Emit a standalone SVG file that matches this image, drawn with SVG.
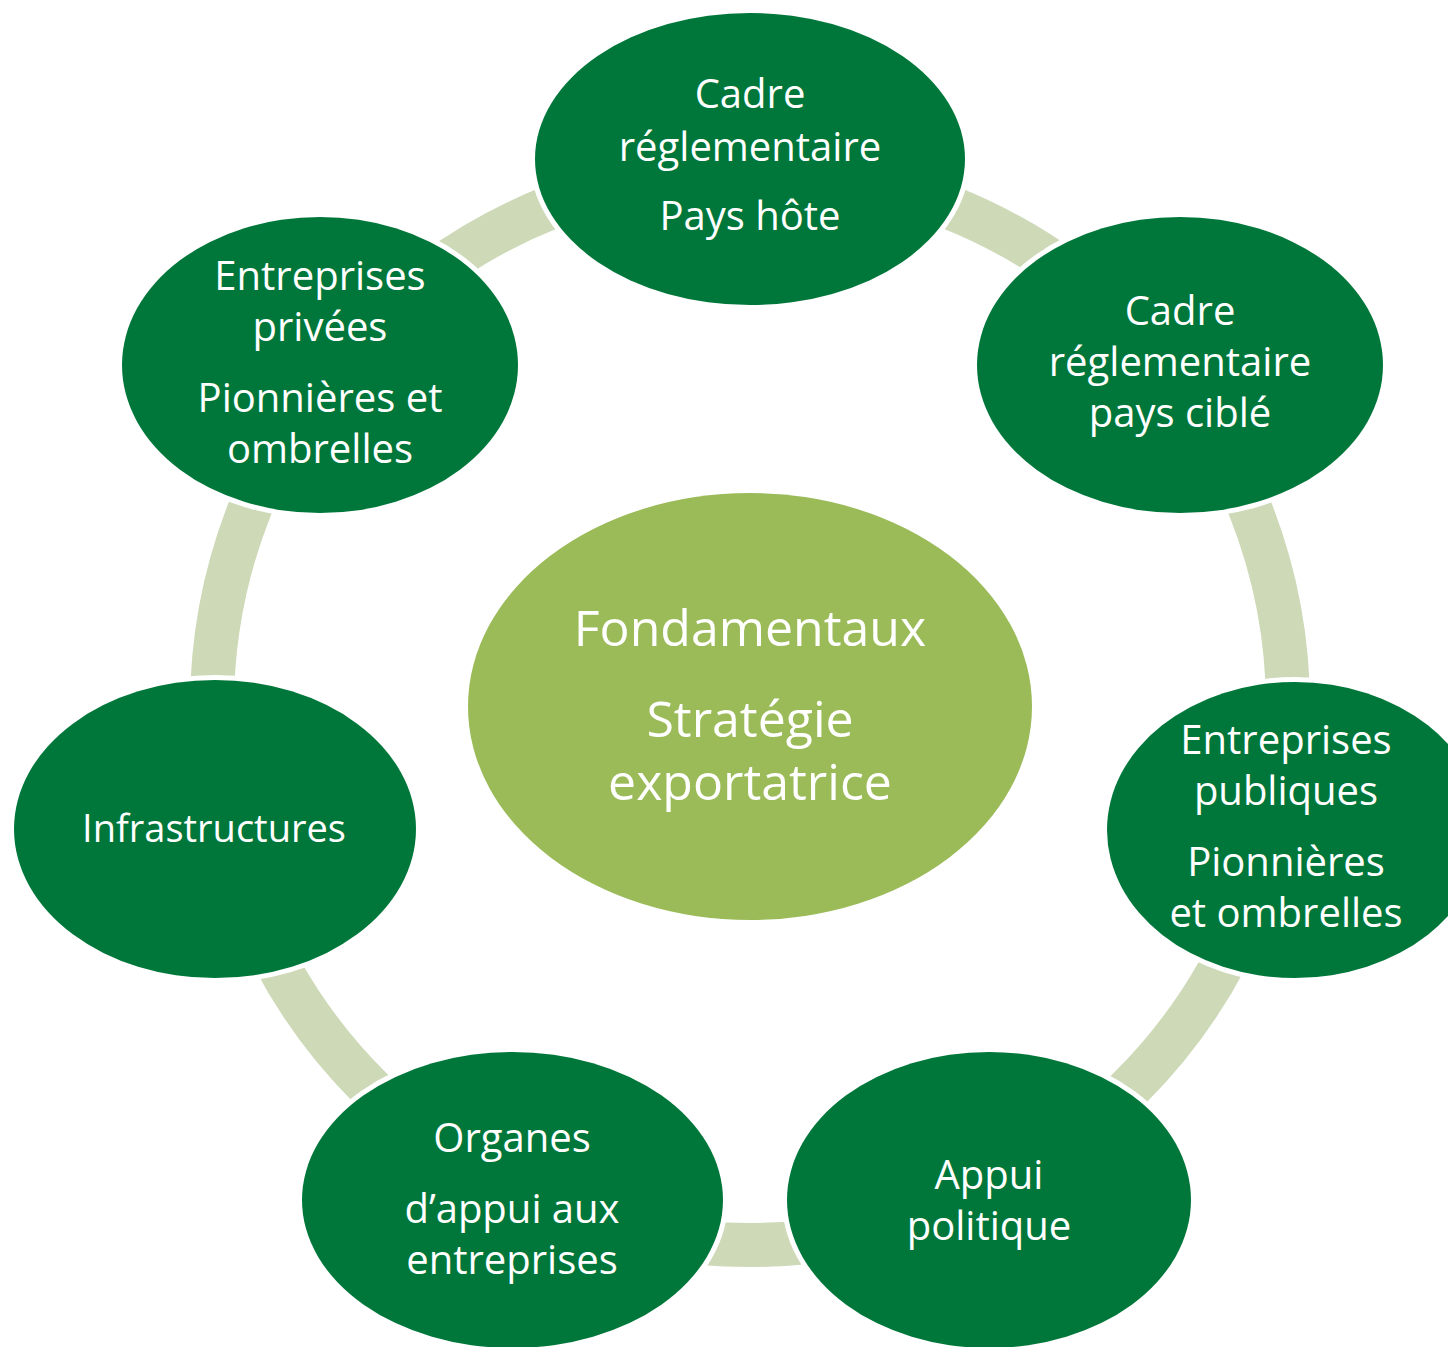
<svg xmlns="http://www.w3.org/2000/svg" width="1448" height="1347" viewBox="0 0 1448 1347">
  <style>
    .node { fill: #00773A; stroke: #FFFFFF; stroke-width: 10; paint-order: stroke; }
    .hub { fill: #9BBB59; }
    .ring { fill: none; stroke: #CDD9B7; stroke-width: 44; }
    text { font-family: "Open Sans", "Noto Sans", "DejaVu Sans", sans-serif; fill: #FFFFFF; text-anchor: middle; }
    .t { font-size: 40px; }
    .c { font-size: 50px; }
  </style>
  <rect x="0" y="0" width="1448" height="1347" fill="#FFFFFF"/>
  <g id="connectors">
    <circle class="ring" cx="750" cy="707" r="538"/>
  </g>
  <g id="center">
    <ellipse class="hub" cx="750" cy="706.5" rx="282" ry="213.5"/>
    <text class="c" x="750" y="646">Fondamentaux</text>
    <text class="c" x="750" y="737">Stratégie</text>
    <text class="c" x="750" y="800">exportatrice</text>
  </g>
  <g id="node-top">
    <ellipse class="node" cx="750" cy="159" rx="215" ry="146"/>
    <text class="t" x="750" y="108">Cadre</text>
    <text class="t" x="750" y="161">réglementaire</text>
    <text class="t" x="750" y="230">Pays hôte</text>
  </g>
  <g id="node-upper-right">
    <ellipse class="node" cx="1180" cy="365" rx="203" ry="148"/>
    <text class="t" x="1180" y="325">Cadre</text>
    <text class="t" x="1180" y="376">réglementaire</text>
    <text class="t" x="1180" y="427">pays ciblé</text>
  </g>
  <g id="node-lower-right">
    <ellipse class="node" cx="1295" cy="830" rx="188" ry="148"/>
    <text class="t" x="1286" y="754">Entreprises</text>
    <text class="t" x="1286" y="805">publiques</text>
    <text class="t" x="1286" y="876">Pionnières</text>
    <text class="t" x="1286" y="927">et ombrelles</text>
  </g>
  <g id="node-bottom-right">
    <ellipse class="node" cx="989" cy="1200" rx="202" ry="148"/>
    <text class="t" x="989" y="1189">Appui</text>
    <text class="t" x="989" y="1240">politique</text>
  </g>
  <g id="node-bottom-left">
    <ellipse class="node" cx="512.5" cy="1200" rx="210.5" ry="148"/>
    <text class="t" x="512" y="1152">Organes</text>
    <text class="t" x="512" y="1223">d’appui aux</text>
    <text class="t" x="512" y="1274">entreprises</text>
  </g>
  <g id="node-left">
    <ellipse class="node" cx="215" cy="829" rx="201" ry="149"/>
    <text class="t" x="214" y="842" style="font-size:38px">Infrastructures</text>
  </g>
  <g id="node-upper-left">
    <ellipse class="node" cx="320" cy="365" rx="198" ry="148"/>
    <text class="t" x="320" y="290">Entreprises</text>
    <text class="t" x="320" y="341">privées</text>
    <text class="t" x="320" y="412">Pionnières et</text>
    <text class="t" x="320" y="463">ombrelles</text>
  </g>
</svg>
